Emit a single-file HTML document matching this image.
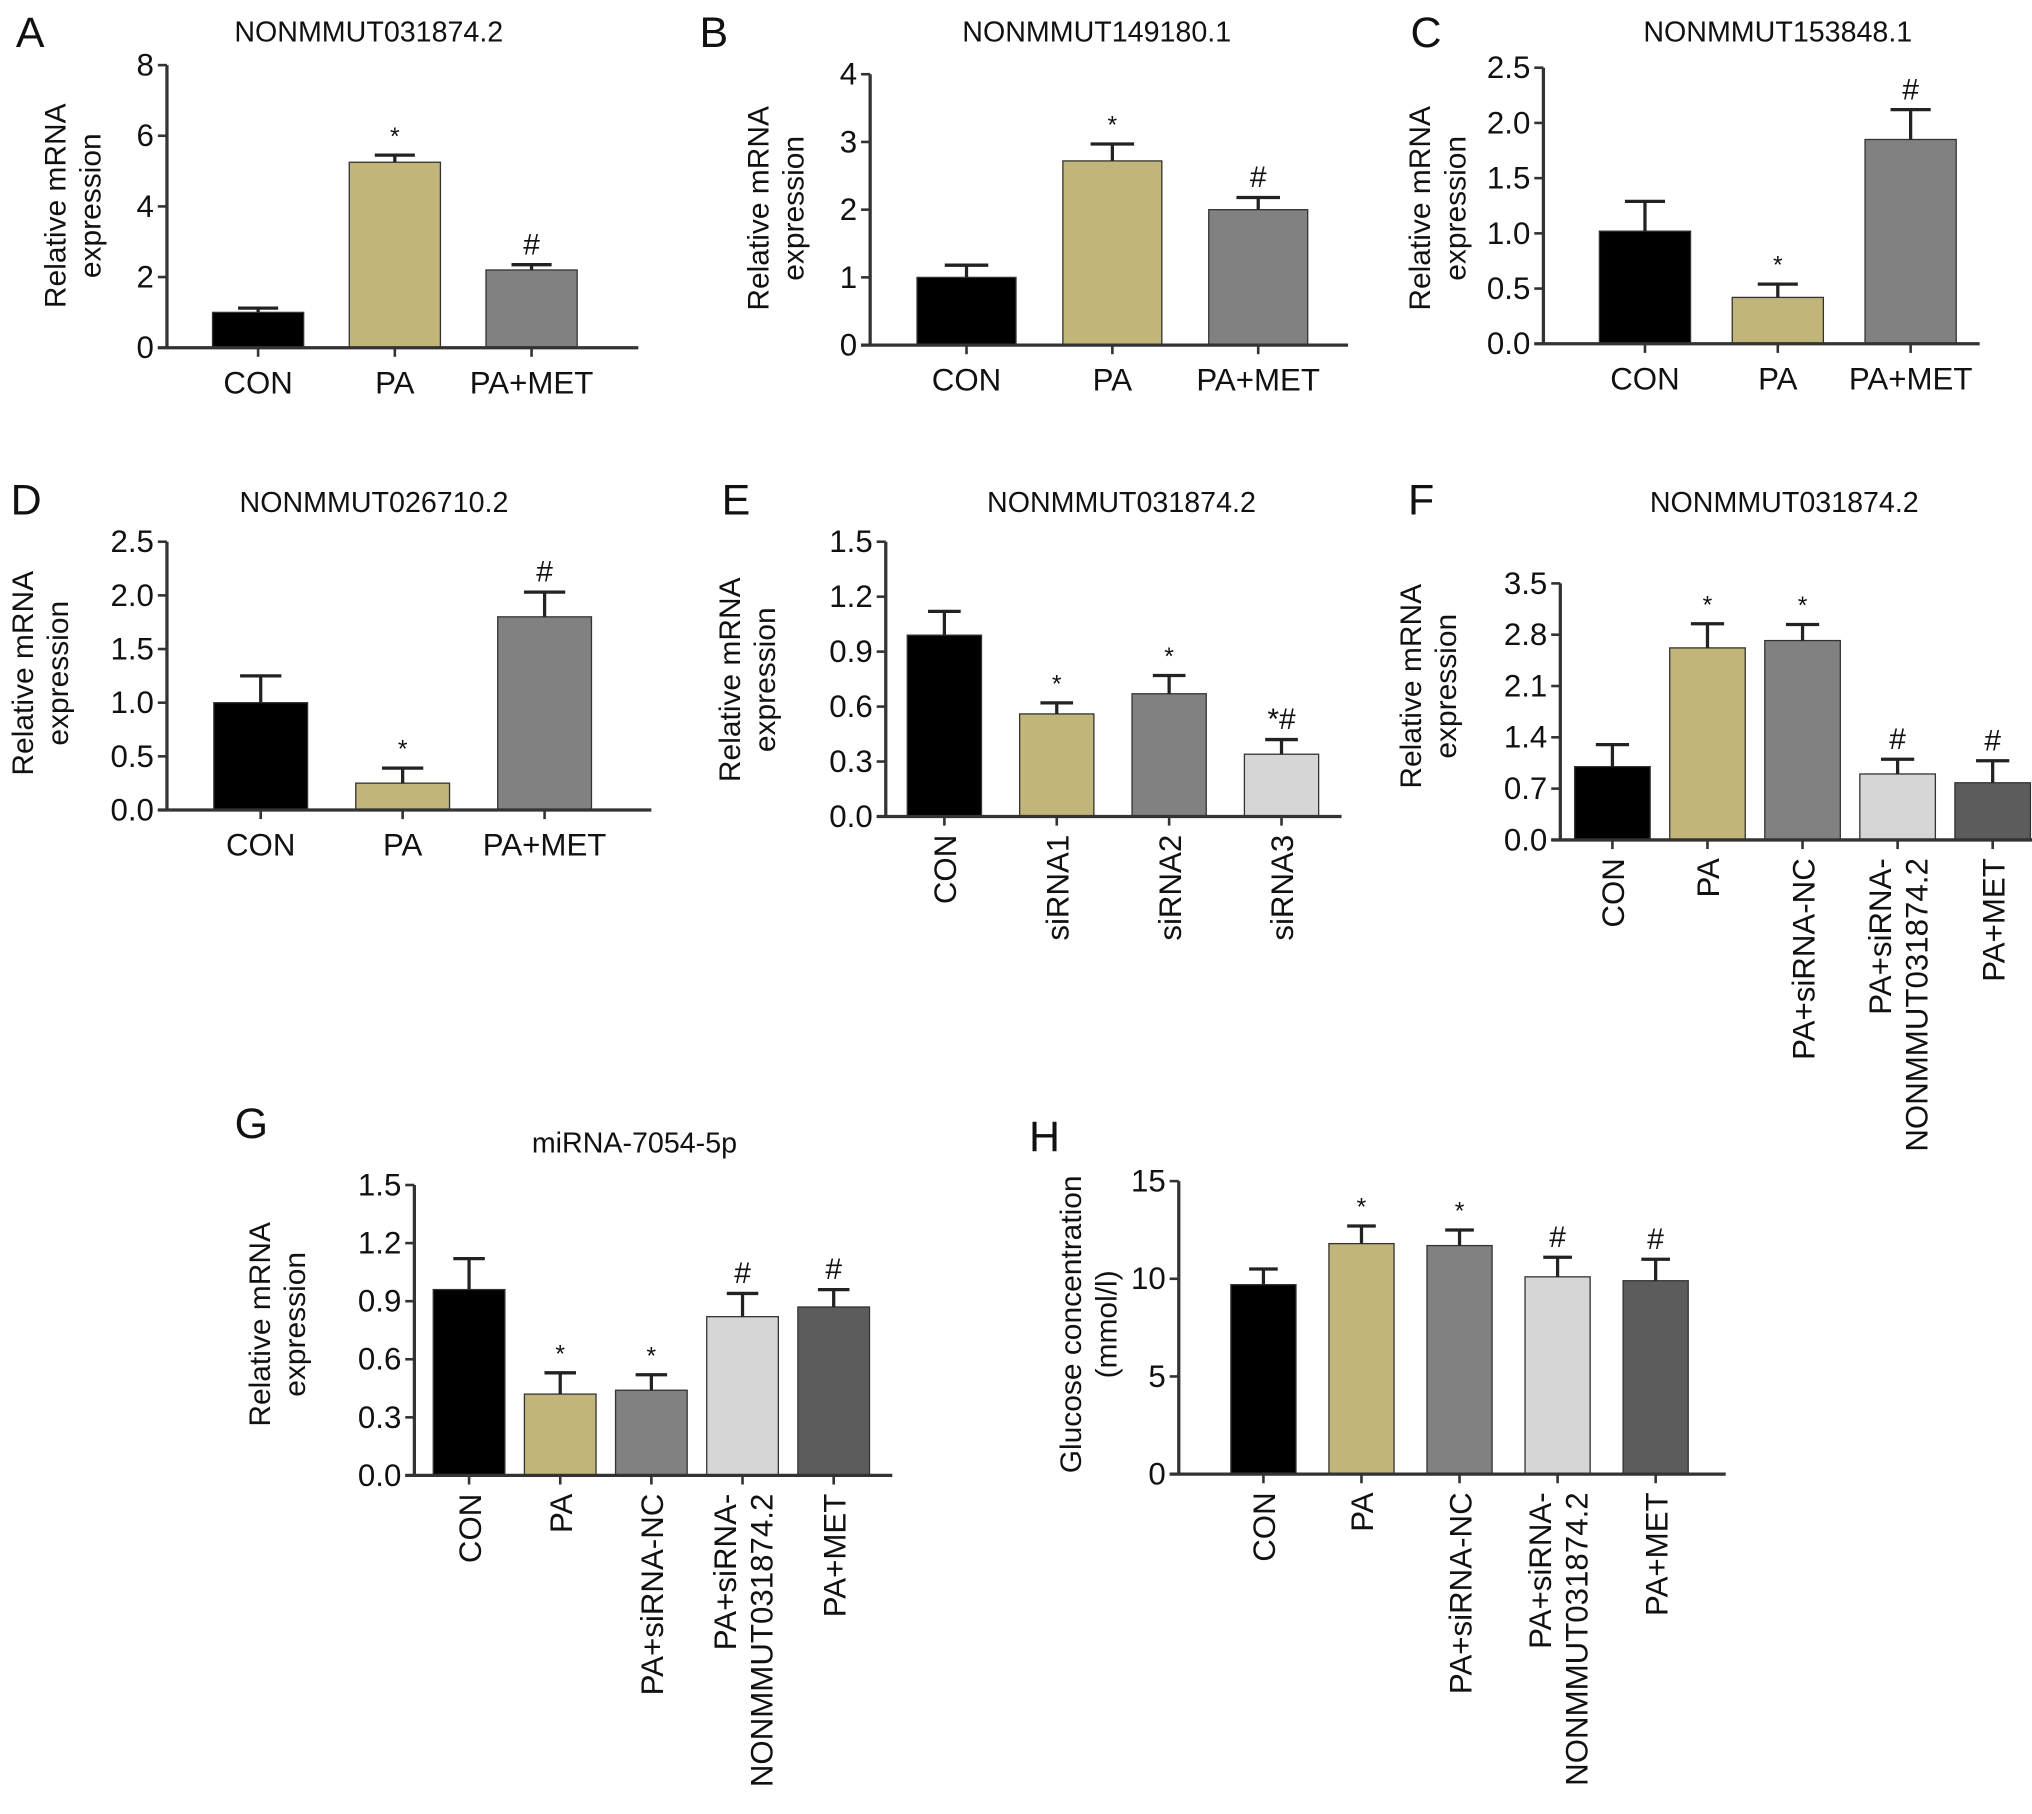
<!DOCTYPE html>
<html><head><meta charset="utf-8"><style>
html,body{margin:0;padding:0;background:#fff}
svg{display:block}
text{font-family:"Liberation Sans",Arial,sans-serif;fill:#111}
</style></head><body>
<svg id="fig" width="2032" height="1814" viewBox="0 0 1560 1393" xmlns="http://www.w3.org/2000/svg"></svg>
<script>
// ---- data ----
const catsA = ["CON","PA","PA+MET"];
const valsA = [1.0, 5.25, 2.2];
const errsA = [0.12, 0.2, 0.15];
const marksA = ["", "*", "#"];
const ticksA = ["0","2","4","6","8"];

const catsB = ["CON","PA","PA+MET"];
const valsB = [1.0, 2.72, 2.0];
const errsB = [0.18, 0.25, 0.18];
const marksB = ["", "*", "#"];
const ticksB = ["0","1","2","3","4"];

const catsC = ["CON","PA","PA+MET"];
const valsC = [1.02, 0.42, 1.85];
const errsC = [0.27, 0.12, 0.27];
const marksC = ["", "*", "#"];
const ticksC = ["0.0","0.5","1.0","1.5","2.0","2.5"];

const catsD = ["CON","PA","PA+MET"];
const valsD = [1.0, 0.25, 1.8];
const errsD = [0.25, 0.14, 0.23];
const marksD = ["", "*", "#"];
const ticksD = ["0.0","0.5","1.0","1.5","2.0","2.5"];

const catsE = ["CON","siRNA1","siRNA2","siRNA3"];
const valsE = [0.99, 0.56, 0.67, 0.34];
const errsE = [0.13, 0.06, 0.1, 0.08];
const marksE = ["", "*", "*", "*#"];
const ticksE = ["0.0","0.3","0.6","0.9","1.2","1.5"];

const catsF = ["CON","PA","PA+siRNA-NC","PA+siRNA-|NONMMUT031874.2","PA+MET"];
const valsF = [1.0, 2.62, 2.72, 0.9, 0.78];
const errsF = [0.3, 0.33, 0.22, 0.2, 0.3];
const marksF = ["", "*", "*", "#", "#"];
const ticksF = ["0.0","0.7","1.4","2.1","2.8","3.5"];

const catsG = ["CON","PA","PA+siRNA-NC","PA+siRNA-|NONMMUT031874.2","PA+MET"];
const valsG = [0.96, 0.42, 0.44, 0.82, 0.87];
const errsG = [0.16, 0.11, 0.08, 0.12, 0.09];
const marksG = ["", "*", "*", "#", "#"];
const ticksG = ["0.0","0.3","0.6","0.9","1.2","1.5"];

const catsH = ["CON","PA","PA+siRNA-NC","PA+siRNA-|NONMMUT031874.2","PA+MET"];
const valsH = [9.7, 11.8, 11.7, 10.1, 9.9];
const errsH = [0.8, 0.9, 0.8, 1.0, 1.1];
const marksH = ["", "*", "*", "#", "#"];
const ticksH = ["0","5","10","15"];

const COLORS = ["#000000","#c2b57a","#818181","#d6d6d6","#5c5c5c"];
const NS = "http://www.w3.org/2000/svg";
const svg = document.getElementById("fig");

function mk(tag, attrs, parent, txt){
  const e = document.createElementNS(NS, tag);
  for (const k in attrs) e.setAttribute(k, attrs[k]);
  if (txt !== undefined) e.textContent = txt;
  (parent||svg).appendChild(e);
  return e;
}

function panel(cfg, cats, vals, errs, marks, ticks){
  const g = mk("g", {});
  
  
  const t0 = parseFloat(ticks[0]), t1 = parseFloat(ticks[ticks.length-1]);
  const y = v => cfg.y0 - (v - t0) / (t1 - t0) * (cfg.y0 - cfg.yTop);
  const x = i => cfg.xc[0] + i * (cfg.xc[1] - cfg.xc[0]);
  const L = mk("text", {x: cfg.lx, y: cfg.ly, "font-size": 33}, g, cfg.id);
  
  
  if (cfg.title){
    const T = mk("text", {x: cfg.tx, y: cfg.ty, "font-size": 22, "text-anchor": "middle"}, g, cfg.title);
    
    
  }
  const yt = mk("text", {transform: `translate(${cfg.ytx},${cfg.ytc}) rotate(-90)`, "font-size": 23, "text-anchor": "middle"}, g);
  
  
  mk("tspan", {x: 0, y: 0}, yt, cfg.yTitle[0]);
  mk("tspan", {x: 0, y: 27}, yt, cfg.yTitle[1]);
  vals.forEach((v, i) => {
    const cx = x(i), w = cfg.bw;
    const r = mk("rect", {x: cx - w/2, y: y(v), width: w, height: y(t0) - y(v), fill: COLORS[i], stroke: "#333", "stroke-width": 1}, g);
    
    
    const e = mk("path", {d: `M${cx},${y(v)}V${y(v+errs[i])}M${cx - w*0.22},${y(v+errs[i])}H${cx + w*0.22}`, stroke: "#222", "stroke-width": 2.5, fill: "none"}, g);
    
    
    if (marks[i]){
      const isHash = marks[i].indexOf("#") >= 0;
      const m = mk("text", {x: cx, y: y(v+errs[i]) - 8, "font-size": isHash ? 23 : 19, "text-anchor": "middle"}, g, marks[i]);
      
      
    }
    mk("line", {x1: cx, x2: cx, y1: cfg.y0, y2: cfg.y0 + 7, stroke: "#333", "stroke-width": 2}, g);
    if (cfg.rot){
      const parts = cats[i].split("|");
      const lt = mk("text", {transform: `translate(${cx + 9 - (parts.length-1)*14},${cfg.y0 + 14}) rotate(-90)`, "font-size": 24, "text-anchor": "end"}, g);
      
      
      parts.forEach((p, k) => mk("tspan", {x: 0, y: k*28}, lt, p));
    } else {
      const lt = mk("text", {x: cx, y: cfg.y0 + 35, "font-size": 24, "text-anchor": "middle"}, g, cats[i]);
      
      
    }
  });
  const ya = mk("line", {x1: cfg.ax, x2: cfg.ax, y1: cfg.yTop, y2: cfg.y0, stroke: "#333", "stroke-width": 2.5}, g);
  
  
  const xa = mk("line", {x1: cfg.ax - 7, x2: cfg.xEnd, y1: cfg.y0, y2: cfg.y0, stroke: "#333", "stroke-width": 2.5}, g);
  
  
  ticks.forEach(t => {
    const yy = y(parseFloat(t));
    mk("line", {x1: cfg.ax - 7, x2: cfg.ax, y1: yy, y2: yy, stroke: "#333", "stroke-width": 2}, g);
    const tl = mk("text", {x: cfg.ax - 10, y: yy + 8, "font-size": 24, "text-anchor": "end"}, g, t);
    
    
  });
}

const RM = ["Relative mRNA","expression"];
panel({id:"A", lx:12, ly:36, title:"NONMMUT031874.2", tx:283, ty:32, ytx:50, ytc:158, yTitle:RM,
  ax:128, yTop:50, y0:267, xEnd:490, xc:[198,303], bw:70}, catsA, valsA, errsA, marksA, ticksA);
panel({id:"B", lx:537, ly:36, title:"NONMMUT149180.1", tx:842, ty:32, ytx:590, ytc:160, yTitle:RM,
  ax:668, yTop:57, y0:265, xEnd:1035, xc:[742,854], bw:76}, catsB, valsB, errsB, marksB, ticksB);
panel({id:"C", lx:1083, ly:36, title:"NONMMUT153848.1", tx:1365, ty:32, ytx:1098, ytc:160, yTitle:RM,
  ax:1185, yTop:52, y0:264, xEnd:1520, xc:[1263,1365], bw:70}, catsC, valsC, errsC, marksC, ticksC);
panel({id:"D", lx:8, ly:395, title:"NONMMUT026710.2", tx:287, ty:393, ytx:25, ytc:517, yTitle:RM,
  ax:128, yTop:416, y0:622, xEnd:500, xc:[200,309], bw:72}, catsD, valsD, errsD, marksD, ticksD);
panel({id:"E", lx:554, ly:395, title:"NONMMUT031874.2", tx:861, ty:393, ytx:568, ytc:522, yTitle:RM,
  ax:680, yTop:416, y0:627, xEnd:1030, xc:[725,811.3], bw:57, rot:true}, catsE, valsE, errsE, marksE, ticksE);
panel({id:"F", lx:1081, ly:395, title:"NONMMUT031874.2", tx:1370, ty:393, ytx:1091, ytc:527, yTitle:RM,
  ax:1198, yTop:448, y0:645, xEnd:1562, xc:[1238,1311], bw:58, rot:true}, catsF, valsF, errsF, marksF, ticksF);
panel({id:"G", lx:180, ly:874, title:"miRNA-7054-5p", tx:487, ty:885, ytx:207, ytc:1017, yTitle:RM,
  ax:318, yTop:910, y0:1133, xEnd:685, xc:[360,430], bw:55, rot:true}, catsG, valsG, errsG, marksG, ticksG);
panel({id:"H", lx:790, ly:884, title:"", tx:0, ty:0, ytx:830, ytc:1017, yTitle:["Glucose concentration","(mmol/l)"],
  ax:905, yTop:907, y0:1132, xEnd:1325, xc:[970,1045.3], bw:50, rot:true}, catsH, valsH, errsH, marksH, ticksH);
</script>
</body></html>
